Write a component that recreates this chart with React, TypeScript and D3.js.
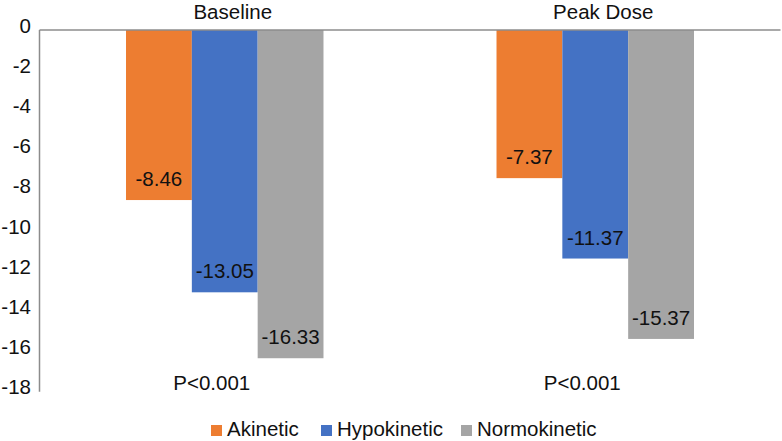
import React from "react";
import * as d3 from "d3";

const categories = ["Baseline", "Peak Dose"];
const seriesNames = ["Akinetic", "Hypokinetic", "Normokinetic"];
const akinetic = [-8.46, -7.37];
const hypokinetic = [-13.05, -11.37];
const normokinetic = [-16.33, -15.37];
const pValues = ["P<0.001", "P<0.001"];
const yTicks = [0, -2, -4, -6, -8, -10, -12, -14, -16, -18];
const colors = ["#ED7D31", "#4472C4", "#A5A5A5"];

const W = 782;
const H = 441;
const FONT = "'Liberation Sans', Arial, sans-serif";
const FS = 20.5;

export default function App() {
  const series = [akinetic, hypokinetic, normokinetic];
  const x0 = d3.scaleBand<string>().domain(categories).range([39.5, 780.5]).paddingInner(0.467).paddingOuter(0.2335);
  const x1 = d3.scaleBand<string>().domain(seriesNames).range([0, x0.bandwidth()]).padding(0);
  const y = d3.scaleLinear().domain([0, -18]).range([30, 391.8]);

  const legendX = [211, 321, 461];

  return (
    <>
      <style>{"body{margin:0}"}</style>
      <svg width={W} height={H} style={{ display: "block", fontFamily: FONT }}>
        <rect width={W} height={H} fill="#fff" />
        {/* bars */}
        {categories.map((c, ci) =>
          seriesNames.map((s, si) => {
            const v = series[si][ci];
            const bx = (x0(c) as number) + (x1(s) as number);
            const bw = x1.bandwidth();
            return (
              <g key={c + s}>
                <rect x={bx} y={y(0)} width={bw} height={y(v) - y(0)} fill={colors[si]} />
                <text x={bx + bw / 2} y={y(v) - 14} textAnchor="middle" fontSize={FS} fill="#111">
                  {v.toFixed(2)}
                </text>
              </g>
            );
          })
        )}
        {/* axes */}
        <line x1={39.5} x2={780.5} y1={y(0)} y2={y(0)} stroke="#8c8c8c" strokeWidth={1.5} />
        <line x1={39.5} x2={39.5} y1={y(0)} y2={y(-18)} stroke="#8c8c8c" strokeWidth={1.5} />
        {yTicks.map((t) => (
          <text key={t} x={31} y={y(t) - 4.5} dy="0.35em" textAnchor="end" fontSize={FS} fill="#111">
            {t}
          </text>
        ))}
        {/* category labels */}
        {categories.map((c) => (
          <text key={c} x={(x0(c) as number) + x0.bandwidth() / 2 + 8} y={18.5} textAnchor="middle" fontSize={FS} fill="#111">
            {c}
          </text>
        ))}
        {/* p values */}
        {categories.map((c, ci) => (
          <text key={c + "p"} x={(x0(c) as number) + x0.bandwidth() / 2 - 13} y={390} textAnchor="middle" fontSize={FS} fill="#111">
            {pValues[ci]}
          </text>
        ))}
        {/* legend */}
        {seriesNames.map((s, si) => (
          <g key={s} transform={`translate(${legendX[si]},0)`}>
            <rect x={0} y={425} width={11} height={11} fill={colors[si]} />
            <text x={16} y={436} fontSize={FS} fill="#111">
              {s}
            </text>
          </g>
        ))}
      </svg>
    </>
  );
}
